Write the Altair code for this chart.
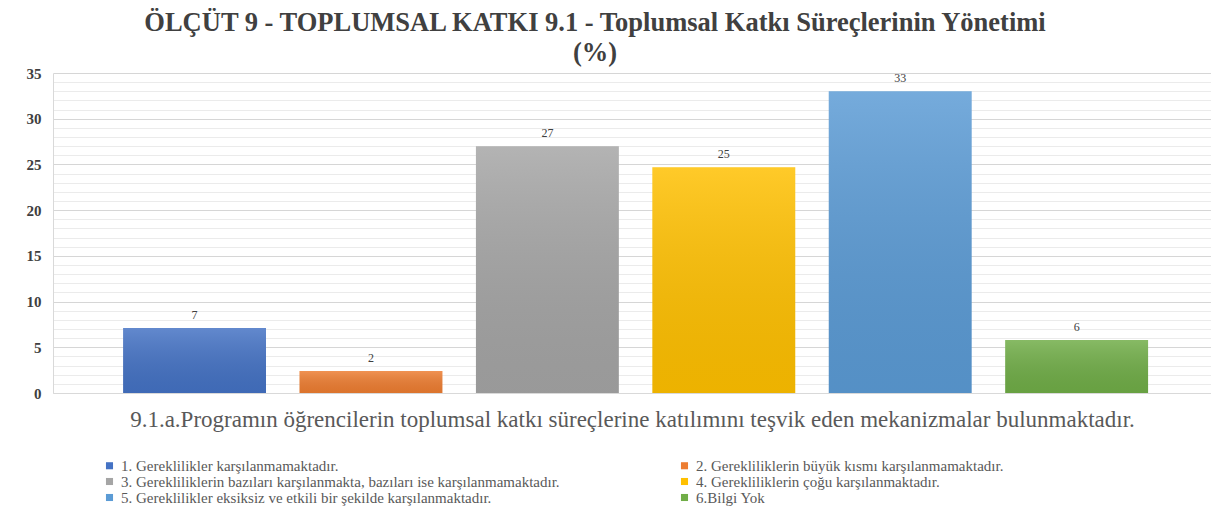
import altair as alt
import pandas as pd

categories = [
    "1. Gereklilikler karşılanmamaktadır.",
    "2. Gerekliliklerin büyük kısmı karşılanmamaktadır.",
    "3. Gerekliliklerin bazıları karşılanmakta, bazıları ise karşılanmamaktadır.",
    "4. Gerekliliklerin çoğu karşılanmaktadır.",
    "5. Gereklilikler eksiksiz ve etkili bir şekilde karşılanmaktadır.",
    "6.Bilgi Yok",
]
values = [7.1, 2.4, 27.0, 24.7, 33.0, 5.8]
colors = ["#4472C4", "#ED7D31", "#A5A5A5", "#FFC000", "#5B9BD5", "#70AD47"]
y_ticks = list(range(0, 36))
question = "9.1.a.Programın  öğrencilerin toplumsal katkı süreçlerine katılımını teşvik eden mekanizmalar bulunmaktadır."
title_lines = ["ÖLÇÜT 9 - TOPLUMSAL KATKI 9.1 - Toplumsal Katkı Süreçlerinin Yönetimi", "(%)"]

FONT = "Liberation Serif, Times New Roman, Tinos, serif"

df = pd.DataFrame({"cevap": categories, "yuzde": values})

x_enc = alt.X(
    "cevap:N",
    sort=categories,
    scale=alt.Scale(paddingInner=0.19, paddingOuter=0.377, align=0.527),
    axis=alt.Axis(
        title=question,
        labels=False,
        ticks=False,
        domainColor="#d9d9d9",
        titleFont=FONT,
        titleFontSize=23,
        titleFontWeight="normal",
        titleColor="#595959",
        titlePadding=15,
    ),
)
y_enc = alt.Y(
    "yuzde:Q",
    scale=alt.Scale(domain=[0, 35], nice=False),
    axis=alt.Axis(
        title=None,
        values=y_ticks,
        labelExpr="datum.value % 5 === 0 ? datum.label : ''",
        labelOverlap=False,
        ticks=False,
        tickSize=0,
        labelPadding=12,
        labelFont=FONT,
        labelFontSize=15,
        labelFontWeight="bold",
        labelColor="#404040",
        domainColor="#d9d9d9",
        grid=True,
        gridColor={"condition": {"test": "datum.value % 5 === 0", "value": "#d6d6d6"}, "value": "#ebebeb"},
        gridWidth=1,
    ),
)

base = alt.Chart(df)

bars = base.mark_bar().encode(
    x=x_enc,
    y=y_enc,
    color=alt.Color(
        "cevap:N",
        sort=categories,
        scale=alt.Scale(domain=categories, range=colors),
        legend=alt.Legend(
            title=None,
            orient="none",
            direction="horizontal",
            legendX=49,
            legendY=385,
            columns=2,
            columnPadding=117,
            rowPadding=0,
            padding=0,
            symbolType="square",
            symbolSize=50,
            symbolStrokeWidth=0,
            labelFont=FONT,
            labelFontSize=15,
            labelColor="#595959",
            labelLimit=700,
            labelOffset=4,
        ),
    ),
)

shade = base.mark_bar(
    color=alt.Gradient(
        gradient="linear",
        x1=0, y1=0, x2=0, y2=1,
        stops=[
            alt.GradientStop(color="rgba(255,255,255,0.16)", offset=0),
            alt.GradientStop(color="rgba(0,0,0,0.07)", offset=1),
        ],
    )
).encode(x=x_enc, y=y_enc)

labels = base.mark_text(
    baseline="bottom", dy=-6, font=FONT, fontSize=12, color="#404040"
).encode(
    x=x_enc,
    y=y_enc,
    text=alt.Text("yuzde:Q", format=".0f"),
)

chart = (
    alt.layer(bars, shade, labels)
    .properties(
        width=1158,
        height=320,
        title=alt.TitleParams(
            text=title_lines,
            font=FONT,
            fontSize=26.5,
            fontWeight="bold",
            color="#404040",
            anchor="middle",
            dx=-37,
            lineHeight=30,
            offset=0,
        ),
        autosize=alt.AutoSizeParams(type="none"),
        padding={"left": 45, "top": 65, "right": 0, "bottom": 129},
    )
    .configure_view(stroke=None)
)

chart.save("out.html", embed_options={"renderer": "svg", "actions": False})
